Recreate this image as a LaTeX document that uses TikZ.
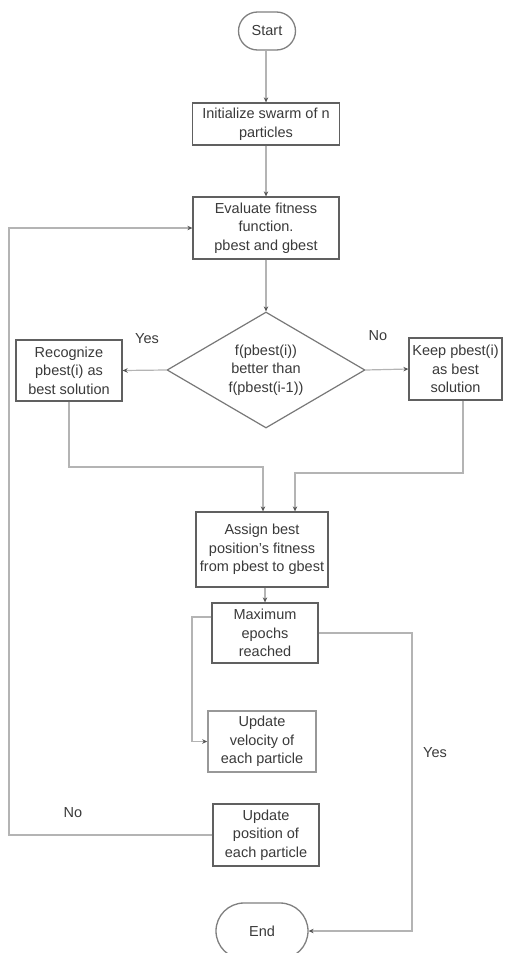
\documentclass[tikz,border=0pt]{standalone}
\usepackage{fontspec}
\setmainfont{Liberation Sans}
\usetikzlibrary{arrows.meta,shapes.geometric}
\definecolor{boxgray}{HTML}{606060}
\definecolor{linegray}{HTML}{B4B4B4}
\definecolor{tipgray}{HTML}{555555}
\definecolor{txtgray}{HTML}{3A3A3A}
\tikzset{
  box/.style={draw=boxgray, line width=1.3pt, fill=white, align=center, inner sep=0pt,
    text=txtgray, font=\fontsize{14.5}{18.5}\selectfont},
  term/.style={box, draw=boxgray!80, rounded corners=#1},
  decbox/.style={diamond, draw=boxgray!85, line width=1.2pt, fill=white, align=center, inner sep=0pt,
    aspect=1.7, text=txtgray, font=\fontsize{14.5}{18.5}\selectfont},
  conn/.style={draw=linegray, line width=1.2pt, -{Stealth[length=5pt,width=4.5pt,color=tipgray]}},
  lbl/.style={text=txtgray, font=\fontsize{14.5}{18.5}\selectfont, inner sep=0pt}
}
\begin{document}
\begin{tikzpicture}[x=1pt,y=-1pt]
\useasboundingbox (0,0) rectangle (512,953);
\node[term=19pt, minimum width=57pt, minimum height=38pt] (start) at (267,31) {Start};
\node[box, minimum width=147pt, minimum height=42pt] (init) at (266,124) {Initialize swarm of n\\particles};
\node[box, minimum width=146pt, minimum height=62pt] (eval) at (266,228) {Evaluate fitness\\function.\\pbest and gbest};
\node[decbox, minimum width=198pt, minimum height=116pt] (dec) at (266,370) {f(pbest(i))\\better than\\f(pbest(i-1))};
\node[box, minimum width=106pt, minimum height=61pt] (rec) at (69,370.5) {Recognize\\pbest(i) as\\best solution};
\node[box, minimum width=93pt, minimum height=62pt] (keep) at (455.5,369) {Keep pbest(i)\\as best\\solution};
\node[box, minimum width=132pt, minimum height=75pt] (assign) at (262,549.5) {Assign best\\position's fitness\\from pbest to gbest};
\node[box, minimum width=106pt, minimum height=60pt] (max) at (265,633) {Maximum\\epochs\\reached};
\node[box, draw=boxgray!65, line width=1.6pt, minimum width=108pt, minimum height=61pt] (vel) at (262,741.5) {Update\\velocity of\\each particle};
\node[box, minimum width=106pt, minimum height=62pt] (pos) at (266,835) {Update\\position of\\each particle};
\node[term=28pt, minimum width=92pt, minimum height=56pt] (end) at (262,931) {End};

\node[lbl] (yes1) at (147,339) {Yes};
\node[lbl] (no1) at (378,336) {No};
\node[lbl] (no2) at (73,813) {No};
\node[lbl] (yes2) at (435,753) {Yes};

\coordinate (a1) at (263,467);
\coordinate (k1) at (463,473);
\coordinate (k2) at (295,473);
\coordinate (m1) at (192,617);
\coordinate (m2) at (412,633);
\coordinate (l1) at (9,835);

\draw[conn] (start.south -| init.north) -- (init.north);
\draw[conn] (init) -- (eval);
\draw[conn] (eval) -- (dec);
\draw[conn] (dec.west) -- (rec.east);
\draw[conn] (dec.east) -- (keep.west);
\draw[conn] (rec.south) |- (a1) -- (a1 |- assign.north);
\draw[conn] (keep.south -| k1) -- (k1) -- (k2) -- (k2 |- assign.north);
\draw[conn] (max.north |- assign.south) -- (max.north);
\draw[conn] (max.west |- m1) -- (m1) |- (vel.west);
\draw[conn] (max.east) -- (m2) |- (end.east);
\draw[conn] (pos.west) -- (l1) |- (eval.west);
\end{tikzpicture}
\end{document}
